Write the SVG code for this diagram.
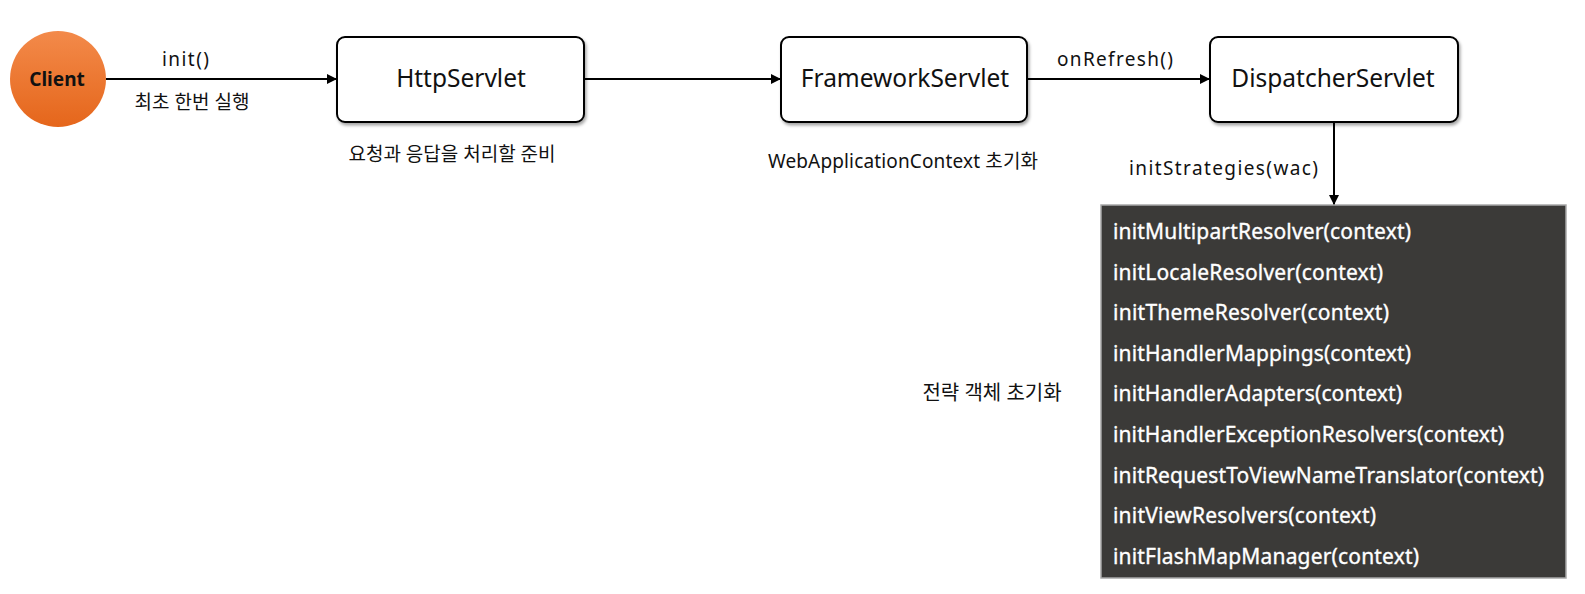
<svg xmlns="http://www.w3.org/2000/svg" width="1585" height="594" viewBox="0 0 1585 594">
<defs>
<linearGradient id="orange" x1="0" y1="0" x2="0" y2="1">
<stop offset="0" stop-color="#f38a4a"/>
<stop offset="1" stop-color="#e5661b"/>
</linearGradient>
<marker id="arr" viewBox="0 0 10 10" refX="10" refY="5" markerWidth="10" markerHeight="10" markerUnits="userSpaceOnUse" orient="auto">
<path d="M0,0 L10,5 L0,10 z" fill="#000"/>
</marker>
<filter id="sh" x="-10%" y="-10%" width="130%" height="140%">
<feDropShadow dx="1.5" dy="2.5" stdDeviation="1.5" flood-color="#000" flood-opacity="0.35"/>
</filter>
<style>
text{font-family:"Noto Sans","Noto Sans CJK KR",sans-serif;fill:#111}
.box{fill:#fff;stroke:#000;stroke-width:2}
.lbl{font-size:24.5px}
.sm{font-size:19px}
.item{font-size:21px;fill:#fff;stroke:#fff;stroke-width:0.35}
.conn{stroke:#000;stroke-width:2;fill:none}
</style>
</defs>
<rect width="1585" height="594" fill="#fff"/>
<g id="connectors">
<line class="conn" x1="106" y1="79" x2="337" y2="79" marker-end="url(#arr)"/>
<line class="conn" x1="584" y1="79" x2="781" y2="79" marker-end="url(#arr)"/>
<line class="conn" x1="1027" y1="79" x2="1210" y2="79" marker-end="url(#arr)"/>
<line class="conn" x1="1334" y1="122" x2="1334" y2="205" marker-end="url(#arr)"/>
<text class="sm" x="162" y="66" textLength="47" lengthAdjust="spacing">init()</text>
<text class="sm" x="192" y="109" text-anchor="middle">최초 한번 실행</text>
<text class="sm" x="1057" y="66" textLength="116" lengthAdjust="spacing">onRefresh()</text>
<text class="sm" x="1129" y="175" textLength="189" lengthAdjust="spacing">initStrategies(wac)</text>
</g>
<g id="client">
<circle cx="58" cy="79" r="48" fill="url(#orange)"/>
<text x="57" y="86" text-anchor="middle" font-size="19" font-weight="bold" fill="#222">Client</text>
</g>
<g id="httpservlet">
<rect class="box" x="337" y="37" width="247" height="85" rx="8" filter="url(#sh)"/>
<text class="lbl" x="461" y="87" text-anchor="middle">HttpServlet</text>
<text class="sm" x="452" y="161" text-anchor="middle">요청과 응답을 처리할 준비</text>
</g>
<g id="frameworkservlet">
<rect class="box" x="781" y="37" width="246" height="85" rx="8" filter="url(#sh)"/>
<text class="lbl" x="905" y="87" text-anchor="middle">FrameworkServlet</text>
<text class="sm" x="768" y="168" textLength="270" lengthAdjust="spacing">WebApplicationContext 초기화</text>
</g>
<g id="dispatcherservlet">
<rect class="box" x="1210" y="37" width="248" height="85" rx="8" filter="url(#sh)"/>
<text class="lbl" x="1333" y="87" text-anchor="middle">DispatcherServlet</text>
</g>
<g id="strategies">
<rect x="1101" y="205" width="465" height="373" fill="#3b3a38" stroke="#a8a8a8" stroke-width="1.5"/>
<text class="item" x="1113" y="239" textLength="298" lengthAdjust="spacing">initMultipartResolver(context)</text>
<text class="item" x="1113" y="279.6" textLength="270" lengthAdjust="spacing">initLocaleResolver(context)</text>
<text class="item" x="1113" y="320.2" textLength="276" lengthAdjust="spacing">initThemeResolver(context)</text>
<text class="item" x="1113" y="360.8" textLength="298" lengthAdjust="spacing">initHandlerMappings(context)</text>
<text class="item" x="1113" y="401.4" textLength="289" lengthAdjust="spacing">initHandlerAdapters(context)</text>
<text class="item" x="1113" y="442" textLength="391" lengthAdjust="spacing">initHandlerExceptionResolvers(context)</text>
<text class="item" x="1113" y="482.6" textLength="431" lengthAdjust="spacing">initRequestToViewNameTranslator(context)</text>
<text class="item" x="1113" y="523.2" textLength="263" lengthAdjust="spacing">initViewResolvers(context)</text>
<text class="item" x="1113" y="563.8" textLength="306" lengthAdjust="spacing">initFlashMapManager(context)</text>
</g>
<g id="strategy-label">
<text x="992" y="400" text-anchor="middle" font-size="20">전략 객체 초기화</text>
</g>
</svg>
